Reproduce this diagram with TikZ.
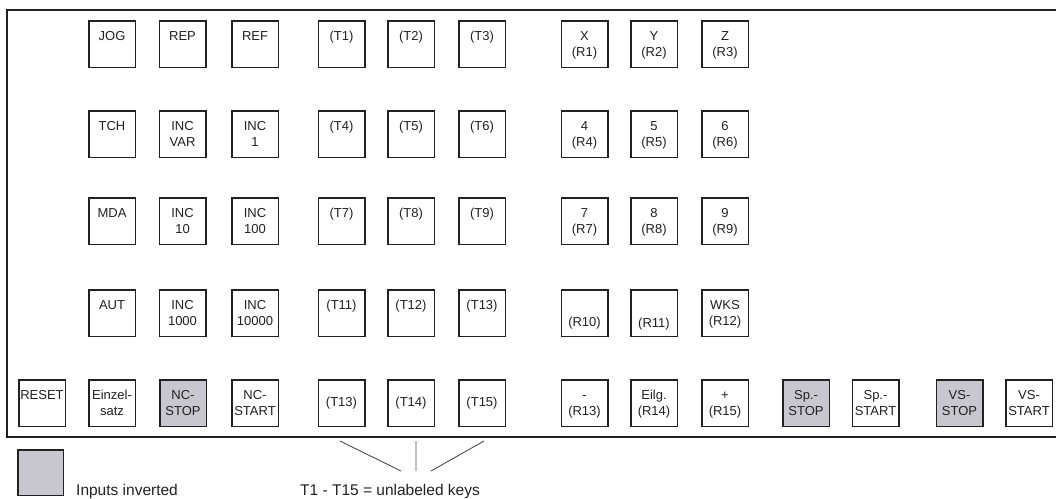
\documentclass[tikz,border=0pt]{standalone}
\usepackage{fontspec}
\setmainfont{Liberation Sans}
\usetikzlibrary{calc}

\definecolor{ink}{gray}{0.13}
\definecolor{mid}{gray}{0.30}
\definecolor{inv}{RGB}{200,198,207}
% two centred lines, baseline on the first one
\newcommand{\twol}[2]{\begin{tabular}[t]{@{}c@{}}#1\\#2\end{tabular}}
% \keyat[baseline offset]{style}{name}{centre}{label}
\newcommand{\keyat}[5][20]{%
  \node[#2] (#3) at (#4) {};
  \node[keylbl] (#3-l) at ([yshift=-#1pt]#3.north) {#5};}

\begin{document}
\begin{tikzpicture}[x=1pt, y=-1pt,
  keybox/.style={draw=ink, line width=1.5pt, fill=white, minimum size=46.5pt, inner sep=0pt},
  invbox/.style={keybox, fill=inv},
  keylbl/.style={anchor=base, inner sep=0pt, text=ink, font=\fontsize{13}{16}\selectfont},
  legtext/.style={anchor=base west, inner sep=0pt, text=ink, font=\fontsize{15.5}{18}\selectfont},
]
\useasboundingbox (0,0) rectangle (1056,498);

% panel frame, open to the right
\draw[draw=ink, line width=1.2pt] (1056,10) -- (7,10) -- (7,437) -- (1056,437);

% operating modes and increments
\keyat{keybox}{jog}{112,44}{JOG}
\keyat{keybox}{rep}{182.5,44}{REP}
\keyat{keybox}{ref}{255,44}{REF}
\keyat{keybox}{tch}{112,134}{TCH}
\keyat{keybox}{incvar}{182.5,134}{\twol{INC}{VAR}}
\keyat{keybox}{inc1}{255,134}{\twol{INC}{1}}
\keyat{keybox}{mda}{112,221}{MDA}
\keyat{keybox}{inc10}{182.5,221}{\twol{INC}{10}}
\keyat{keybox}{inc100}{255,221}{\twol{INC}{100}}
\keyat{keybox}{aut}{112,313}{AUT}
\keyat{keybox}{inc1000}{182.5,313}{\twol{INC}{1000}}
\keyat{keybox}{inc10000}{255,313}{\twol{INC}{10000}}

% unlabeled keys
\keyat{keybox}{t1}{341.5,44}{(T1)}
\keyat{keybox}{t2}{411,44}{(T2)}
\keyat{keybox}{t3}{482,44}{(T3)}
\keyat{keybox}{t4}{341.5,134}{(T4)}
\keyat{keybox}{t5}{411,134}{(T5)}
\keyat{keybox}{t6}{482,134}{(T6)}
\keyat{keybox}{t7}{341.5,221}{(T7)}
\keyat{keybox}{t8}{411,221}{(T8)}
\keyat{keybox}{t9}{482,221}{(T9)}
\keyat{keybox}{t11}{341.5,313}{(T11)}
\keyat{keybox}{t12}{411,313}{(T12)}
\keyat{keybox}{t13}{482,313}{(T13)}

% axis and number keys
\keyat{keybox}{r1}{584.5,44}{\twol{X}{(R1)}}
\keyat{keybox}{r2}{654,44}{\twol{Y}{(R2)}}
\keyat{keybox}{r3}{725,44}{\twol{Z}{(R3)}}
\keyat{keybox}{r4}{584.5,134}{\twol{4}{(R4)}}
\keyat{keybox}{r5}{654,134}{\twol{5}{(R5)}}
\keyat{keybox}{r6}{725,134}{\twol{6}{(R6)}}
\keyat{keybox}{r7}{584.5,221}{\twol{7}{(R7)}}
\keyat{keybox}{r8}{654,221}{\twol{8}{(R8)}}
\keyat{keybox}{r9}{725,221}{\twol{9}{(R9)}}
\keyat[37]{keybox}{r10}{584.5,313}{(R10)}
\keyat[38]{keybox}{r11}{654,313}{(R11)}
\keyat{keybox}{r12}{725,313}{\twol{WKS}{(R12)}}

% bottom row
\keyat{keybox}{reset}{42,403}{RESET}
\keyat{keybox}{einzel}{112,403}{\twol{Einzel-}{satz}}
\keyat{invbox}{ncstop}{183,403}{\twol{NC-}{STOP}}
\keyat{keybox}{ncstart}{255,403}{\twol{NC-}{START}}
\keyat[27]{keybox}{t13b}{341.5,403}{(T13)}
\keyat[27]{keybox}{t14}{411,403}{(T14)}
\keyat[27]{keybox}{t15}{482,403}{(T15)}
\keyat{keybox}{r13}{584.5,403}{\twol{-}{(R13)}}
\keyat{keybox}{r14}{654,403}{\twol{Eilg.}{(R14)}}
\keyat{keybox}{r15}{725,403}{\twol{+}{(R15)}}
\keyat{invbox}{spstop}{806,403}{\twol{Sp.-}{STOP}}
\keyat{keybox}{spstart}{875.5,403}{\twol{Sp.-}{START}}
\keyat{invbox}{vsstop}{959.5,403}{\twol{VS-}{STOP}}
\keyat{keybox}{vsstart}{1029,403}{\twol{VS-}{START}}

% legend
\node[invbox, minimum size=45.5pt] (legbox) at (40.5,472.5) {};
\node[legtext] (leginv) at (76,495) {Inputs inverted};
\node[legtext] (legkeys) at (300,495) {T1 - T15 = unlabeled keys};
\coordinate (fana) at (340,441);  \coordinate (fana') at (401,471);
\coordinate (fanb) at (416,441);  \coordinate (fanb') at (416,471);
\coordinate (fanc) at (484,441);  \coordinate (fanc') at (431,471);
\draw[draw=mid, line width=.9pt] (fana) -- (fana') (fanb) -- (fanb') (fanc) -- (fanc');
\end{tikzpicture}
\end{document}
